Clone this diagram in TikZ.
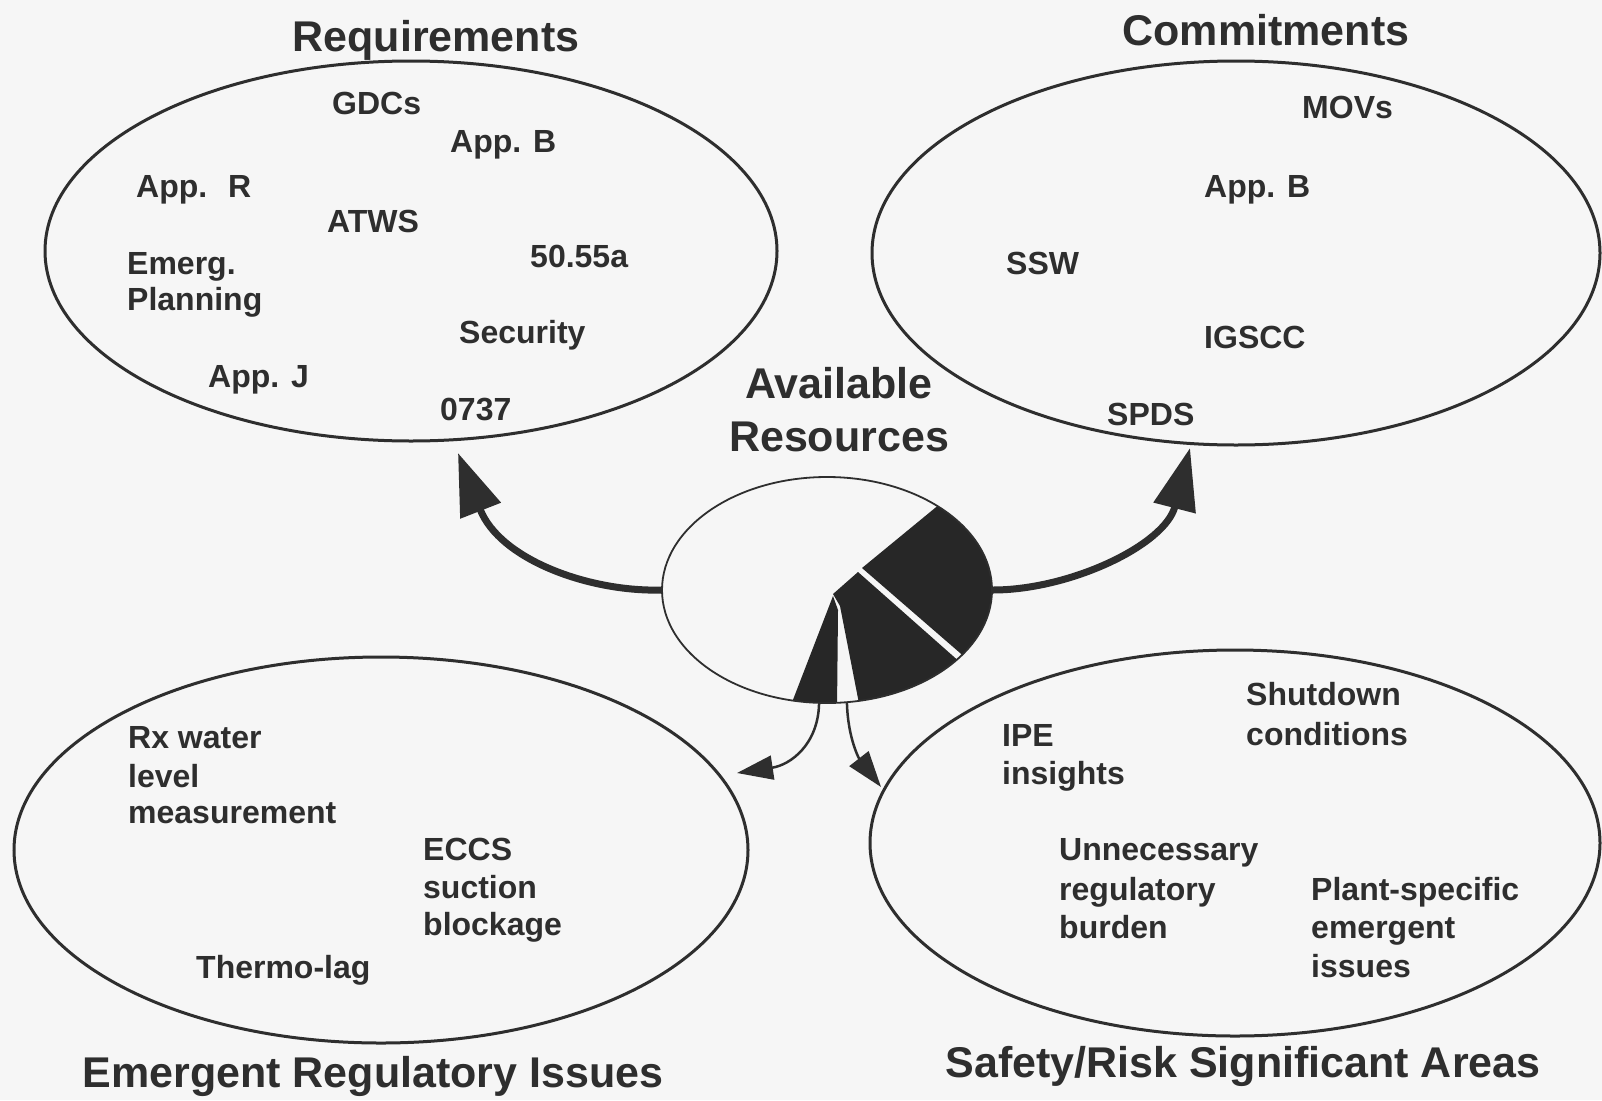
\documentclass[tikz,border=0pt]{standalone}
\usepackage{fontspec}
\setmainfont{Liberation Sans}
\usetikzlibrary{shapes.geometric,arrows.meta}
\definecolor{ink}{HTML}{2E2E2E}
\definecolor{paper}{HTML}{F6F6F6}
\begin{document}
\begin{tikzpicture}[x=1pt,y=-1pt,
  ell/.style={draw=ink, line width=3pt, ellipse, inner sep=0pt},
  txt/.style={anchor=base west, font=\fontsize{32}{38}\selectfont\bfseries, text=ink, inner sep=0pt},
  ttl/.style={anchor=base, font=\fontsize{43}{50}\selectfont\bfseries, text=ink, inner sep=0pt},
  bigarrow/.style={draw=ink, line width=7pt, -{Triangle[length=62pt,width=42pt]}},
  smallarrow/.style={draw=ink, line width=2.5pt, -{Triangle[length=36pt,width=24pt]}},
  wedge/.style={fill=ink!85!black}]
\fill[paper] (0,0) rectangle (1602,1100);
\useasboundingbox (0,0) rectangle (1602,1100);

% ---- four ellipses ----
\node[ell, minimum width=732pt, minimum height=380pt] (req) at (411,251) {};
\node[ell, minimum width=728pt, minimum height=384pt] (com) at (1236,253) {};
\node[ell, minimum width=734pt, minimum height=386pt] (emi) at (381,850) {};
\node[ell, minimum width=730pt, minimum height=386pt] (saf) at (1235,843) {};

% ---- titles ----
\node[ttl] (treq) at (436,51) {Requirements};
\node[ttl] (tcom) at (1266,45) {Commitments};
\node[ttl] (tav1) at (839,398) {Available};
\node[ttl] (tav2) at (839,451) {Resources};
\node[ttl] (temi) at (373,1087) {Emergent Regulatory Issues};
\node[ttl] (tsaf) at (1243,1077) {Safety/Risk Significant Areas};

% ---- Requirements ----
\node[txt] (r1) at (332,114) {GDCs};
\node[txt] (r2) at (450,152) {App. B};
\node[txt] (r3) at (136,197) {App.~ R};
\node[txt] (r4) at (327,232) {ATWS};
\node[txt] (r5) at (530,267) {50.55a};
\node[txt] (r6) at (127,274) {Emerg.};
\node[txt] (r7) at (127,310) {Planning};
\node[txt] (r8) at (459,343) {Security};
\node[txt] (r9) at (208,387) {App. J};
\node[txt] (r10) at (440,420) {0737};

% ---- Commitments ----
\node[txt] (c1) at (1302,118) {MOVs};
\node[txt] (c2) at (1204,197) {App. B};
\node[txt] (c3) at (1006,274) {SSW};
\node[txt] (c4) at (1204,348) {IGSCC};
\node[txt] (c5) at (1107,425) {SPDS};

% ---- Emergent Regulatory Issues ----
\node[txt] (e1) at (128,748) {Rx water};
\node[txt] (e2) at (128,787) {level};
\node[txt] (e3) at (128,823) {measurement};
\node[txt] (e4) at (423,860) {ECCS};
\node[txt] (e5) at (423,898) {suction};
\node[txt] (e6) at (423,935) {blockage};
\node[txt] (e7) at (196,978) {Thermo-lag};

% ---- Safety/Risk ----
\node[txt] (s1) at (1246,705) {Shutdown};
\node[txt] (s2) at (1246,745) {conditions};
\node[txt] (s3) at (1002,746) {IPE};
\node[txt] (s4) at (1002,784) {insights};
\node[txt] (s5) at (1059,860) {Unnecessary};
\node[txt] (s6) at (1059,900) {regulatory};
\node[txt] (s7) at (1059,938) {burden};
\node[txt] (s8) at (1311,900) {Plant-specific};
\node[txt] (s9) at (1311,938) {emergent};
\node[txt] (s10) at (1311,977) {issues};

% ---- pie chart ----
\fill[wedge] (862,568) -- plot[domain=48:-35, samples=40] ({827+165*cos(\x)},{590-113*sin(\x)}) -- cycle;
\fill[wedge] (840,606) -- (833,594) -- (858,572) -- plot[domain=-38:-79, samples=30] ({827+165*cos(\x)},{590-113*sin(\x)}) -- cycle;
\fill[wedge] (833,596) -- plot[domain=-102:-86.5, samples=12] ({827+165*cos(\x)},{590-113*sin(\x)}) -- (838,610) -- cycle;
\node[draw=ink, line width=1.8pt, ellipse, minimum width=330pt, minimum height=226pt, inner sep=0pt] (pie) at (827,590) {};

% ---- arrows ----
\coordinate (reqtip) at (458,453);
\coordinate (comtip) at (1190,448);
\coordinate (emitip) at (737,773);
\coordinate (saftip) at (881,787);
\draw[bigarrow] (pie.west) .. controls (590,592) and (500,560) .. (reqtip);
\draw[bigarrow] (pie.east) .. controls (1070,590) and (1165,545) .. (comtip);
\draw[smallarrow] (pie.266.5) .. controls (818,745) and (790,765) .. (emitip);
\draw[smallarrow] (pie.280) .. controls (848,740) and (860,760) .. (saftip);
\end{tikzpicture}
\end{document}
